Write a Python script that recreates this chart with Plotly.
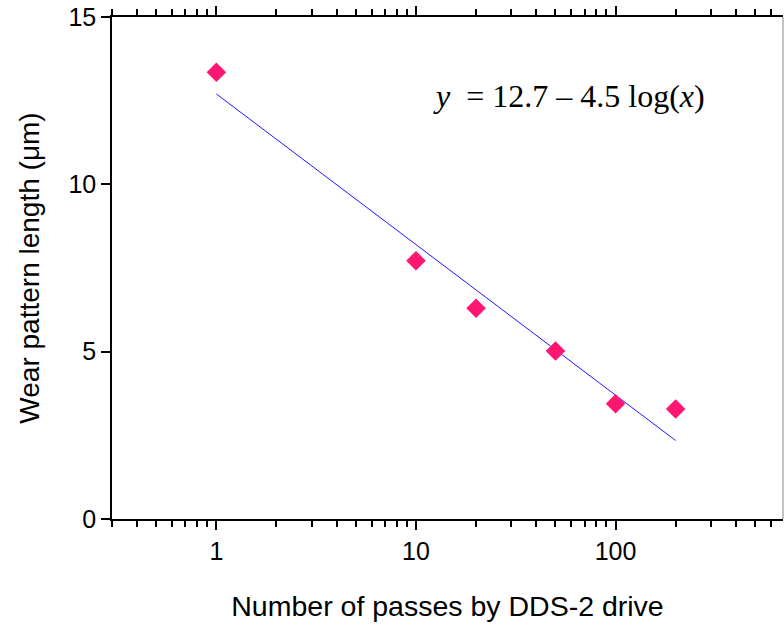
import numpy as np
import plotly.graph_objects as go

# Data
passes = [1, 10, 20, 50, 100, 200]
wear_length = [13.35, 7.72, 6.30, 5.02, 3.44, 3.29]

# Fit line y = a - b*log10(x), drawn over the data range
fit_a = 12.7
fit_b = 4.5
fit_x = [1, 200]

major_ticks = [1, 10, 100]
minor_ticks = [0.3, 0.4, 0.5, 0.6, 0.7, 0.8, 0.9,
               2, 3, 4, 5, 6, 7, 8, 9,
               20, 30, 40, 50, 60, 70, 80, 90,
               200, 300, 400, 500, 600, 700]
y_ticks = [0, 5, 10, 15]

fit_y = [fit_a - fit_b * np.log10(v) for v in fit_x]

fig = go.Figure()
fig.add_trace(go.Scatter(x=fit_x, y=fit_y, mode="lines",
                         line=dict(color="#1a1aff", width=1), showlegend=False))
fig.add_trace(go.Scatter(x=passes, y=wear_length, mode="markers",
                         marker=dict(symbol="diamond", size=15, color="#ff1670",
                                     line=dict(width=0)),
                         showlegend=False))

fig.add_annotation(x=0.887, y=0.843, xref="paper", yref="paper",
                   text="<i>y</i>  = 12.7 – 4.5 log(<i>x</i>)", showarrow=False,
                   font=dict(family="Liberation Serif", size=32, color="black"),
                   xanchor="right", yanchor="middle")

fig.add_shape(type="line", xref="paper", yref="paper", x0=1, x1=1, y0=0, y1=1,
              line=dict(color="#888888", width=1))

fig.update_layout(
    width=784, height=626,
    margin=dict(l=112, r=1, t=17, b=107),
    plot_bgcolor="white", paper_bgcolor="white",
    font=dict(family="Liberation Sans", size=25, color="black"),
    xaxis=dict(type="log", range=[np.log10(0.3), np.log10(690)],
               tickvals=major_ticks, ticktext=[str(v) for v in major_ticks],
               ticks="outside", ticklen=9, tickwidth=1.5, tickcolor="black",
               showline=True, linecolor="black", linewidth=1.5, mirror="ticks",
               showgrid=False, zeroline=False, ticklabeloverflow="allow",
               minor=dict(tickvals=minor_ticks, ticks="outside", ticklen=6,
                          tickwidth=1.5, tickcolor="black", showgrid=False),
               title=dict(text="Number of passes by DDS-2 drive",
                          font=dict(size=28.5), standoff=32),
               tickfont=dict(size=25)),
    yaxis=dict(range=[0, 15], tickvals=y_ticks,
               ticks="outside", ticklen=9, tickwidth=1.5, tickcolor="black",
               showline=True, linecolor="black", linewidth=1.5,
               showgrid=False, zeroline=False, ticklabeloverflow="allow",
               title=dict(text="Wear pattern length (μm)", font=dict(size=28),
                          standoff=21),
               tickfont=dict(size=25)),
)

fig.write_html("out.html", config={"displayModeBar": False},
               post_script="document.body.style.margin='0';document.body.style.overflow='hidden';")
